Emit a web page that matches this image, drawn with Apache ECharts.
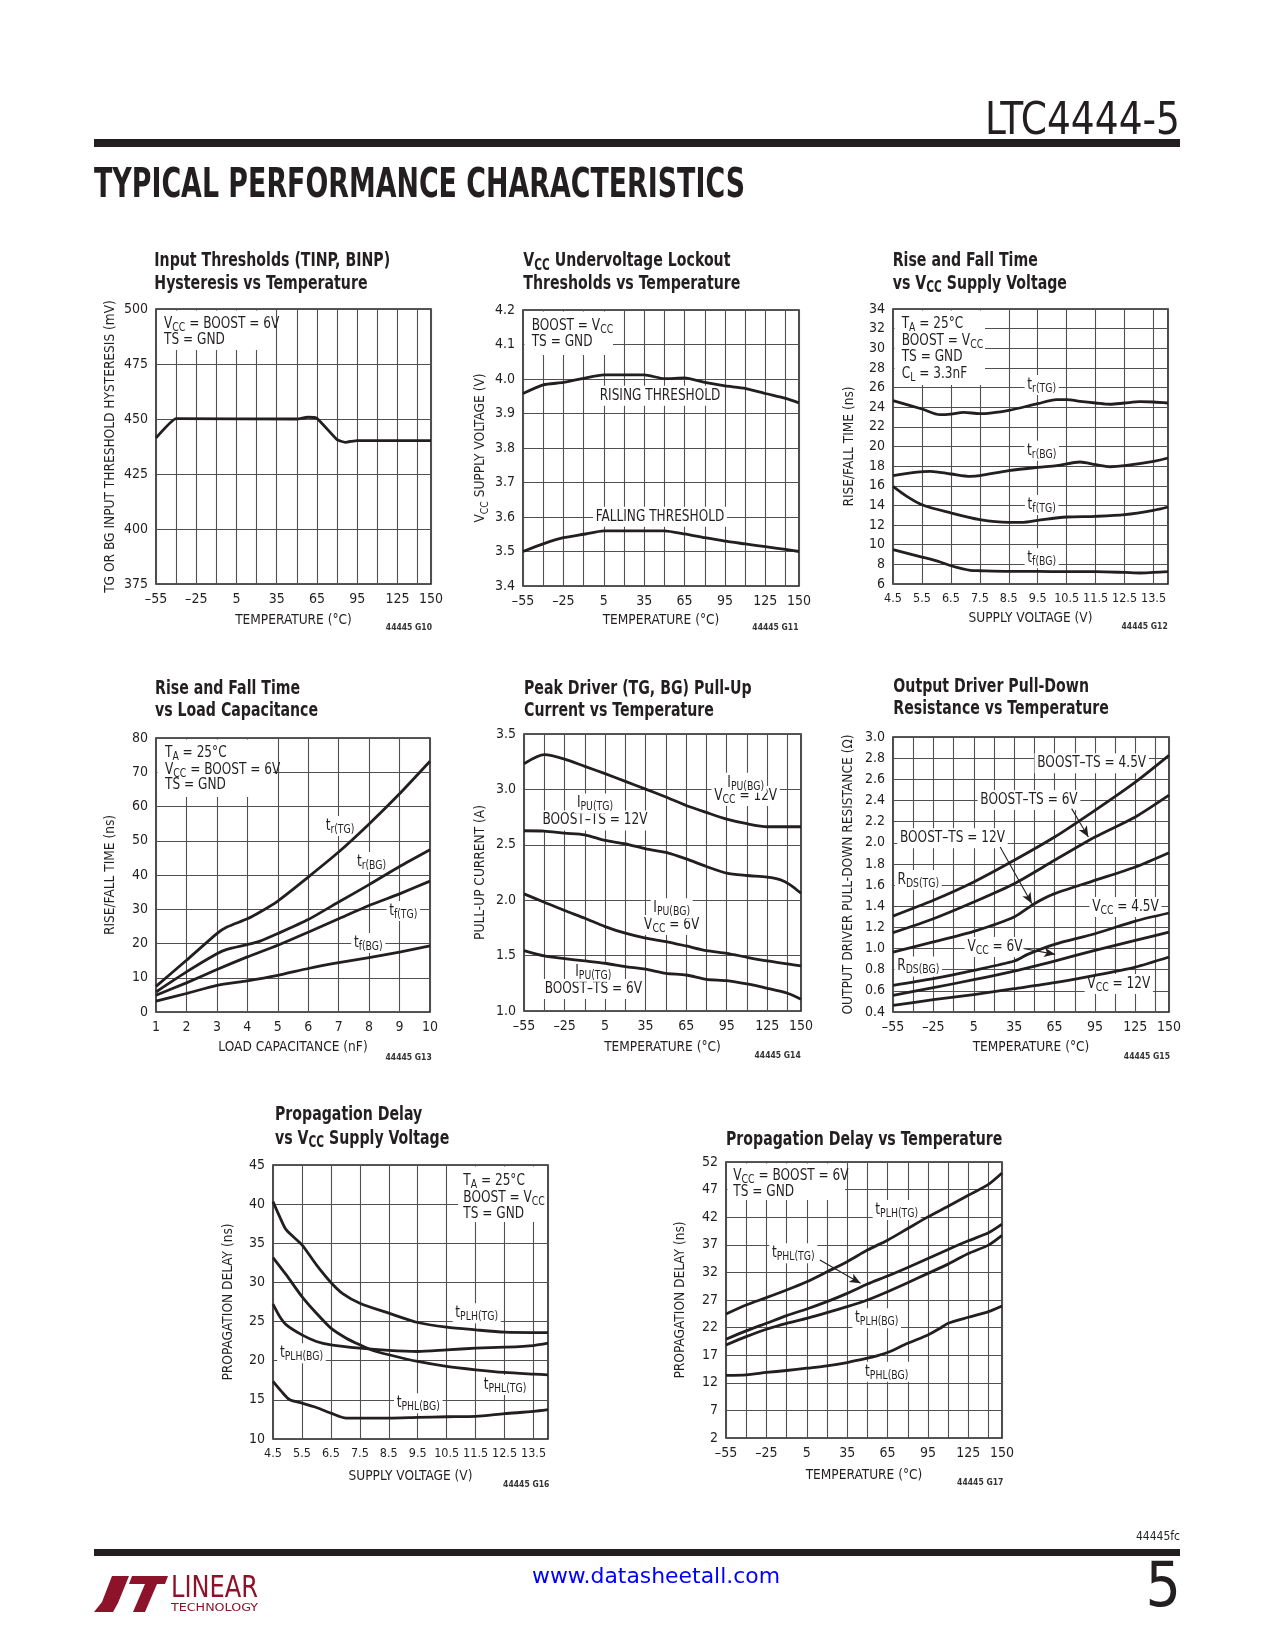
<!DOCTYPE html>
<html>
<head>
<meta charset="utf-8">
<script src="https://cdn.jsdelivr.net/npm/echarts@6.0.0/dist/echarts.min.js"></script>
<style>
html,body{margin:0;padding:0;background:#fff;}
#c{width:1275px;height:1650px;}
</style>
</head>
<body>
<div id="c"></div>
<script>
// ===================== DATA =====================
// Tick labels
const tempTickLabels = [-55, -25, 5, 35, 65, 95, 125, 150];
const vccTickLabels  = [4.5, 5.5, 6.5, 7.5, 8.5, 9.5, 10.5, 11.5, 12.5, 13.5];
const capTickLabels  = [1, 2, 3, 4, 5, 6, 7, 8, 9, 10];

// G10: Input threshold hysteresis vs temperature
const g10Temp = [-55, -40, 50, 58, 65, 80, 86, 95, 150];
const g10Hyst = [441.4, 450.2, 450, 450.8, 450.3, 440.6, 439.4, 440.2, 440.2];

// G11: VCC UVLO thresholds vs temperature
const g11Temp    = [-55, -40, -25, -10, 5, 20, 35, 50, 65, 80, 95, 110, 125, 140, 150];
const g11Rising  = [3.958, 3.983, 3.990, 4.002, 4.012, 4.012, 4.012, 4.001, 4.003, 3.990, 3.980, 3.973, 3.958, 3.944, 3.931];
const g11Falling = [3.500, 3.522, 3.540, 3.550, 3.560, 3.560, 3.560, 3.560, 3.551, 3.540, 3.530, 3.522, 3.514, 3.506, 3.500];

// G12: Rise/fall time vs VCC
const g12TrTgV = [4.5, 5.5, 6.13, 6.5, 6.94, 7.5, 7.86, 8.5, 9.5, 10.15, 10.5, 10.96, 11.5, 12.0, 12.5, 13.03, 13.5, 14];
const g12TrTg  = [24.67, 23.82, 23.24, 23.3, 23.48, 23.34, 23.4, 23.68, 24.36, 24.77, 24.77, 24.6, 24.43, 24.3, 24.43, 24.56, 24.53, 24.43];
const g12TrBgV = [4.5, 5.33, 5.79, 6.5, 7.17, 7.5, 8.5, 9.5, 10.16, 10.96, 11.5, 12.0, 12.5, 13.5, 14];
const g12TrBg  = [17.03, 17.4, 17.47, 17.2, 16.96, 17.03, 17.54, 17.88, 18.05, 18.42, 18.15, 17.94, 18.05, 18.49, 18.83];
const g12TfTgV = [4.5, 4.98, 5.5, 6.5, 7.5, 8.5, 9.0, 9.5, 10.5, 11.5, 12.5, 13.5, 14];
const g12TfTg  = [15.94, 14.92, 14.07, 13.23, 12.55, 12.28, 12.28, 12.48, 12.82, 12.89, 13.06, 13.5, 13.84];
const g12TfBgV = [4.5, 5.5, 6.13, 6.5, 7.17, 7.5, 8.5, 9.5, 10.5, 11.5, 12.5, 13.03, 13.5, 14];
const g12TfBg  = [9.49, 8.74, 8.24, 7.86, 7.39, 7.35, 7.29, 7.29, 7.25, 7.25, 7.18, 7.12, 7.18, 7.25];

// G13: Rise/fall time vs load capacitance
const g13CapR  = [1, 2, 3, 3.33, 4, 4.42, 5, 6, 7, 8, 9, 10];
const g13TrTg  = [7.5, 15.1, 22.9, 24.8, 27.2, 29.2, 32.4, 39.4, 46.7, 54.9, 63.7, 73.2];
const g13TrBg  = [5.85, 11.7, 17.0, 18.3, 19.7, 20.7, 22.9, 27.0, 32.1, 37.2, 42.5, 47.4];
const g13CapF  = [1, 2, 3, 4, 5, 6, 7, 8, 9, 10];
const g13TfTg  = [4.9, 8.5, 12.4, 16.1, 19.5, 23.3, 27.2, 31.1, 34.5, 38.2];
const g13TfBg  = [3.2, 5.4, 7.8, 9.1, 10.7, 12.7, 14.4, 15.9, 17.5, 19.3];

// G14: Peak pull-up current vs temperature
const g14Temp    = [-55, -40, -25, -10, 5, 20, 35, 50, 65, 80, 95, 110, 125, 140, 150];
const g14IpuBg12 = [3.232, 3.313, 3.274, 3.208, 3.142, 3.072, 3.003, 2.931, 2.855, 2.792, 2.732, 2.690, 2.663, 2.663, 2.663];
const g14TempTg12 = [-55, -40, -25, -10, 5, 20, 35, 50, 65, 80, 95, 110, 125, 135, 142, 150];
const g14IpuTg12 = [2.627, 2.624, 2.605, 2.59, 2.539, 2.509, 2.464, 2.431, 2.373, 2.304, 2.244, 2.223, 2.208, 2.184, 2.139, 2.063];
const g14IpuBg6  = [2.057, 1.982, 1.907, 1.837, 1.762, 1.702, 1.657, 1.627, 1.587, 1.545, 1.521, 1.485, 1.452, 1.425, 1.407];
const g14IpuTg6  = [1.545, 1.497, 1.473, 1.452, 1.431, 1.401, 1.377, 1.340, 1.325, 1.286, 1.274, 1.244, 1.205, 1.160, 1.106];

// G15: Pull-down resistance vs temperature
const g15Temp    = [-55, -25, 5, 35, 65, 95, 125, 150];
const g15RTg45   = [1.307, 1.456, 1.629, 1.834, 2.054, 2.307, 2.574, 2.827];
const g15RTg6    = [1.15, 1.282, 1.44, 1.613, 1.834, 2.054, 2.244, 2.45];
const g15TempTg12 = [-55, -25, 5, 35, 50, 65, 95, 125, 150];
const g15RTg12   = [0.967, 1.062, 1.162, 1.298, 1.424, 1.519, 1.645, 1.771, 1.906];
const g15TempBg45 = [-55, -25, 5, 35, 45, 65, 95, 125, 150];
const g15RBg45   = [0.652, 0.715, 0.794, 0.882, 0.945, 1.04, 1.14, 1.26, 1.336];
const g15RBg6    = [0.557, 0.63, 0.705, 0.787, 0.882, 0.983, 1.077, 1.156];
const g15RBg12   = [0.463, 0.516, 0.564, 0.62, 0.677, 0.746, 0.825, 0.92];
const g15Arrows  = [[[77.7, 2.323], [90.1, 2.054]], [[24.6, 1.96], [48.1, 1.425]], [[41.9, 1.0], [65.4, 0.945]]];

// G16: Propagation delay vs VCC
const g16PlhTgV = [4.5, 4.73, 4.96, 5.5, 6.0, 6.5, 6.92, 7.5, 8.5, 9.5, 10.5, 11.5, 12.5, 13.5, 14];
const g16PlhTg  = [40.32, 38.4, 36.7, 34.8, 32.24, 30.0, 28.54, 27.35, 26.07, 24.88, 24.28, 23.94, 23.65, 23.6, 23.6];
const g16PhlTgV = [4.5, 4.96, 5.5, 6.0, 6.5, 7.03, 7.5, 7.95, 8.5, 9.5, 10.5, 11.5, 12.5, 13.5, 14];
const g16PhlTg  = [33.18, 30.96, 28.2, 26.07, 24.16, 22.88, 22.03, 21.31, 20.76, 19.9, 19.27, 18.84, 18.5, 18.29, 18.2];
const g16PlhBgV = [4.5, 4.73, 4.96, 5.5, 6.0, 6.5, 7.5, 8.5, 9.5, 10.5, 11.5, 12.5, 13.5, 14];
const g16PlhBg  = [27.22, 25.65, 24.58, 23.3, 22.46, 22.03, 21.6, 21.31, 21.18, 21.39, 21.6, 21.73, 21.94, 22.24];
const g16PhlBgV = [4.5, 4.79, 5.08, 5.5, 6.0, 6.5, 7.03, 7.5, 8.5, 9.5, 10.5, 11.5, 12.5, 13.5, 14];
const g16PhlBg  = [17.35, 16.08, 15.01, 14.59, 14.03, 13.31, 12.67, 12.67, 12.67, 12.76, 12.84, 12.89, 13.23, 13.52, 13.74];

// G17: Propagation delay vs temperature
const g17Temp   = [-55, -40, -25, -10, 5, 20, 35, 50, 65, 80, 95, 110, 125, 140, 150];
const g17PlhTg  = [24.47, 26.1, 27.42, 28.8, 30.3, 32.1, 33.93, 36.04, 37.84, 39.95, 42.06, 43.99, 45.98, 47.96, 50.01];
const g17PhlTg  = [19.89, 21.4, 22.78, 24.17, 25.37, 26.7, 28.2, 29.89, 31.34, 32.9, 34.53, 36.16, 37.72, 39.17, 40.73];
const g17PlhBg  = [18.86, 20.37, 21.7, 22.78, 23.69, 24.71, 25.8, 27.0, 28.51, 30.13, 31.82, 33.5, 35.43, 36.94, 38.69];
const g17TempPhlBg = [-55, -40, -25, -10, 5, 20, 35, 50, 57, 65, 80, 95, 104, 110, 125, 140, 150];
const g17PhlBg  = [13.33, 13.45, 13.87, 14.23, 14.65, 15.07, 15.67, 16.45, 16.88, 17.48, 19.17, 20.67, 21.88, 22.78, 23.87, 24.9, 25.92];
const g17Arrows = [[[14.7, 34.23], [44.9, 30.02]]];

// ===================== STYLE / HELPERS =====================
const INK = '#231f20';
const GRIDC = '#505050';
const cv = document.createElement('canvas').getContext('2d');
function mw(font, s) { cv.font = font; return cv.measureText(s).width; }
const probe = 'abcdefghijklmnopqrstuvwxyzABCDEFGHIJ0123456789';
function has(f) { return Math.abs(mw('20px "' + f + '", monospace', probe) - mw('20px monospace', probe)) > 0.5; }
const NF = ['Liberation Sans Narrow', 'Arial Narrow', 'DejaVu Sans Condensed', 'Roboto Condensed'].find(has) || 'Liberation Sans';
const FF = '"' + NF + '", "Liberation Sans", Arial, sans-serif';
const F = (size, bold) => (bold ? 'bold ' : '') + size + 'px ' + FF;

const isNarrow = NF === 'Liberation Sans Narrow' || NF === 'Arial Narrow';
const LBL = isNarrow ? 15.5 : 14;
const LBL_V = isNarrow ? 15 : 12.5;
const SX_AX  = 116.7 / mw(F(14.5), 'TEMPERATURE (°C)');
const SX_TXT = 120.7 / mw(F(15), 'RISING THRESHOLD');
const SX_TTL = 276.3 / mw(F(20, true), 'Propagation Delay vs Temperature');

const TOFF = 55, VOFF = 4.5, G17OFF = 2;
const tx = t => t + TOFF;
const vx = v => +(v - VOFF).toFixed(4);
const id = v => v;
const fmtNeg = t => (t < 0 ? '\u2013' + Math.abs(t) : String(t));

function rt(str) {
  const out = []; const re = /_\{([^}]*)\}/g; let last = 0, m;
  while ((m = re.exec(str))) {
    if (m.index > last) out.push('{n|' + str.slice(last, m.index) + '}');
    out.push('{s|' + m[1] + '}'); last = re.lastIndex;
  }
  if (last < str.length) out.push('{n|' + str.slice(last) + '}');
  return out.join('');
}
function richStyles(size, bold, sub) {
  const w = bold ? 'bold' : 'normal';
  return {
    n: { fontFamily: FF, fontSize: size, fontWeight: w, fill: INK, color: INK, lineHeight: size + 5 },
    s: { fontFamily: FF, fontSize: sub, fontWeight: w, fill: INK, color: INK, verticalAlign: 'bottom' }
  };
}
function T(x, y, str, o) {
  o = o || {};
  const size = o.size || 15;
  const al = o.align || 'left';
  const st = {
    text: rt(str), rich: richStyles(size, o.bold, o.sub || Math.round(size * 0.76)),
    align: al, textAlign: al, verticalAlign: 'middle', textVerticalAlign: 'middle', fill: INK
  };
  if (o.bg) { st.backgroundColor = '#fff'; st.padding = [0, 3]; }
  return { type: 'text', x: x, y: y, rotation: o.rot || 0, scaleX: o.sx || 1, z: o.z == null ? 110 : o.z, silent: true, style: st };
}
function plain(x, y, str, o) {
  o = o || {};
  const al = o.align || 'left';
  return { type: 'text', x: x, y: y, scaleX: o.sx || 1, z: 110, silent: true,
    style: { text: str, font: o.font, fill: o.color || INK, align: al, textAlign: al, verticalAlign: 'middle', textVerticalAlign: 'middle' } };
}
function rect(x1, y1, x2, y2, fill, z) {
  return { type: 'rect', shape: { x: x1, y: y1, width: x2 - x1, height: y2 - y1 }, style: { fill: fill || '#fff' }, z: z == null ? 3 : z, silent: true };
}

// ===================== AXES / GRIDS =====================
const grids = [
  [156, 309, 275, 275], [523, 310, 276, 276], [893, 309, 275, 275],
  [156, 738, 274, 274], [524, 734, 277, 277], [893, 737, 276, 275],
  [273, 1165, 275, 274], [726, 1162, 276, 276]
];
const xKinds = ['temp', 'temp', 'vcc', 'cap', 'temp', 'temp', 'vcc', 'temp'];
const yRanges = [
  { min: 375, max: 500, interval: 25, dec: 0, off: 0 },
  { min: 3.4, max: 4.2, interval: 0.1, dec: 1, off: 0 },
  { min: 6, max: 34, interval: 2, dec: 0, off: 0 },
  { min: 0, max: 80, interval: 10, dec: 0, off: 0 },
  { min: 1, max: 3.5, interval: 0.5, dec: 1, off: 0 },
  { min: 0.4, max: 3.0, interval: 0.2, dec: 1, off: 0 },
  { min: 10, max: 45, interval: 5, dec: 0, off: 0 },
  { min: 0, max: 50, interval: 5, dec: 0, off: G17OFF }
];
const axisCommon = () => ({
  axisLine: { show: false }, axisTick: { show: false },
  splitLine: { show: true, lineStyle: { color: GRIDC, width: 1.1 } },
  axisLabel: { color: INK, fontFamily: FF, fontSize: LBL, margin: 8 }
});
const xAxes = xKinds.map((k, gi) => {
  const a = Object.assign({ type: 'value', gridIndex: gi }, axisCommon());
  if (k === 'temp') {
    Object.assign(a, { min: 0, max: 205, interval: 15 });
    a.axisLabel.formatter = v => { const t = Math.round(v - TOFF); return tempTickLabels.includes(t) ? fmtNeg(t) : ''; };
  } else if (k === 'vcc') {
    Object.assign(a, { min: 0, max: 9.5, interval: 1 });
    a.axisLabel.fontSize = LBL_V;
    a.axisLabel.formatter = v => { const t = Math.round((v + VOFF) * 10) / 10; return vccTickLabels.includes(t) ? t.toFixed(1) : ''; };
  } else {
    Object.assign(a, { min: 1, max: 10, interval: 1 });
    a.axisLabel.formatter = v => (capTickLabels.includes(v) ? String(v) : '');
  }
  return a;
});
const yAxes = yRanges.map((r, gi) => {
  const a = Object.assign({ type: 'value', gridIndex: gi, min: r.min, max: r.max, interval: r.interval }, axisCommon());
  a.axisLabel.formatter = v => (v + r.off).toFixed(r.dec);
  return a;
});

// ===================== SERIES =====================
const S = [];
function addLine(gi, xs, ys, fx, fy, smooth, extra) {
  S.push(Object.assign({
    type: 'line', xAxisIndex: gi, yAxisIndex: gi,
    data: xs.map((x, i) => [fx(x), fy(ys[i])]),
    symbol: 'none', showSymbol: false, smooth: smooth,
    lineStyle: { color: INK, width: 2.8, join: 'round' }, silent: true, z: 5, animation: false
  }, extra || {}));
}
function arrows(pairs, fx, fy) {
  return { markLine: {
    silent: true, animation: false, symbol: ['none', 'arrow'], symbolSize: [7, 11],
    lineStyle: { color: INK, width: 1.1, type: 'solid' }, label: { show: false },
    data: pairs.map(p => [{ coord: [fx(p[0][0]), fy(p[0][1])] }, { coord: [fx(p[1][0]), fy(p[1][1])] }])
  } };
}
const y17 = y => +(y - G17OFF).toFixed(3);

addLine(0, g10Temp, g10Hyst, tx, id, 0.12);
addLine(1, g11Temp, g11Rising, tx, id, 0.2);
addLine(1, g11Temp, g11Falling, tx, id, 0.2);
addLine(2, g12TrTgV, g12TrTg, vx, id, 0.3);
addLine(2, g12TrBgV, g12TrBg, vx, id, 0.3);
addLine(2, g12TfTgV, g12TfTg, vx, id, 0.3);
addLine(2, g12TfBgV, g12TfBg, vx, id, 0.3);
addLine(3, g13CapR, g13TrTg, id, id, 0.2);
addLine(3, g13CapR, g13TrBg, id, id, 0.2);
addLine(3, g13CapF, g13TfTg, id, id, 0.2);
addLine(3, g13CapF, g13TfBg, id, id, 0.2);
addLine(4, g14Temp, g14IpuBg12, tx, id, 0.25);
addLine(4, g14TempTg12, g14IpuTg12, tx, id, 0.25);
addLine(4, g14Temp, g14IpuBg6, tx, id, 0.25);
addLine(4, g14Temp, g14IpuTg6, tx, id, 0.25);
addLine(5, g15Temp, g15RTg45, tx, id, 0.25, arrows(g15Arrows, tx, id));
addLine(5, g15Temp, g15RTg6, tx, id, 0.25);
addLine(5, g15TempTg12, g15RTg12, tx, id, 0.25);
addLine(5, g15TempBg45, g15RBg45, tx, id, 0.25);
addLine(5, g15Temp, g15RBg6, tx, id, 0.25);
addLine(5, g15Temp, g15RBg12, tx, id, 0.25);
addLine(6, g16PlhTgV, g16PlhTg, vx, id, 0.25);
addLine(6, g16PhlTgV, g16PhlTg, vx, id, 0.25);
addLine(6, g16PlhBgV, g16PlhBg, vx, id, 0.25);
addLine(6, g16PhlBgV, g16PhlBg, vx, id, 0.25);
addLine(7, g17Temp, g17PlhTg, tx, y17, 0.25, arrows(g17Arrows, tx, y17));
addLine(7, g17Temp, g17PhlTg, tx, y17, 0.25);
addLine(7, g17Temp, g17PlhBg, tx, y17, 0.25);
addLine(7, g17TempPhlBg, g17PhlBg, tx, y17, 0.25);

// ===================== TEXT / GRAPHICS =====================
const G = [];
// header / footer
G.push(rect(94, 139, 1180, 147, INK, 100));
G.push(rect(94, 1549, 1180, 1556, INK, 100));
G.push(plain(1180, 123, 'LTC4444-5', { font: F(44), align: 'right', sx: 195 / mw(F(44), 'LTC4444-5') }));
G.push(plain(94, 187, 'TYPICAL PERFORMANCE CHARACTERISTICS', { font: F(40, true), sx: 651 / mw(F(40, true), 'TYPICAL PERFORMANCE CHARACTERISTICS') }));
G.push(plain(1180, 1537, '44445fc', { font: F(12), align: 'right' }));
G.push(plain(656, 1577, 'www.datasheetall.com', { font: F(22), align: 'center', color: '#0000ff', sx: 248 / mw(F(22), 'www.datasheetall.com') }));
G.push(plain(1181, 1590, '5', { font: F(62), align: 'right' }));
// logo
const MAROON = '#8c1329';
G.push({ type: 'polygon', shape: { points: [[112, 1576], [129, 1576], [118, 1603], [113, 1612], [94, 1612], [102, 1602]] }, style: { fill: MAROON }, z: 110, silent: true });
G.push({ type: 'polygon', shape: { points: [[132, 1576], [168, 1576], [165, 1584], [129, 1584]] }, style: { fill: MAROON }, z: 110, silent: true });
G.push({ type: 'polygon', shape: { points: [[145, 1584], [157, 1584], [145, 1612], [133, 1612]] }, style: { fill: MAROON }, z: 110, silent: true });
G.push(plain(171, 1589, 'LINEAR', { font: F(30), color: MAROON, sx: 87 / mw(F(30), 'LINEAR') }));
G.push(plain(171, 1608, 'TECHNOLOGY', { font: F(10), color: MAROON, sx: 87 / mw(F(10), 'TECHNOLOGY') }));

// chart titles
const titles = [
  [154.3, 260.7, 'Input Thresholds (TINP, BINP)'], [154.3, 283.3, 'Hysteresis vs Temperature'],
  [523.3, 260.7, 'V_{CC} Undervoltage Lockout'], [523.3, 283.3, 'Thresholds vs Temperature'],
  [892.7, 260.7, 'Rise and Fall Time'], [892.7, 283.3, 'vs V_{CC} Supply Voltage'],
  [155, 688.3, 'Rise and Fall Time'], [155, 710.7, 'vs Load Capacitance'],
  [524, 688.3, 'Peak Driver (TG, BG) Pull-Up'], [524, 710.3, 'Current vs Temperature'],
  [893.3, 686.5, 'Output Driver Pull-Down'], [893.3, 708.8, 'Resistance vs Temperature'],
  [275, 1115, 'Propagation Delay'], [275, 1138.3, 'vs V_{CC} Supply Voltage'],
  [726, 1139.3, 'Propagation Delay vs Temperature']
];
titles.forEach(t => G.push(T(t[0], t[1], t[2], { size: 20, bold: true, sub: 15, sx: SX_TTL })));

// axis names
const yNames = [
  [110, 446.5, 'TG OR BG INPUT THRESHOLD HYSTERESIS (mV)'], [480.7, 448, 'V_{CC} SUPPLY VOLTAGE (V)'],
  [849, 446.5, 'RISE/FALL TIME (ns)'], [110.7, 875, 'RISE/FALL TIME (ns)'],
  [480, 872.5, 'PULL-UP CURRENT (A)'], [848.3, 874.5, 'OUTPUT DRIVER PULL-DOWN RESISTANCE (\u03a9)'],
  [228.3, 1302, 'PROPAGATION DELAY (ns)'], [680, 1300, 'PROPAGATION DELAY (ns)']
];
yNames.forEach(t => G.push(T(t[0], t[1], t[2], { size: 14.5, sub: 11, align: 'center', rot: Math.PI / 2, sx: SX_AX })));
const xNames = [
  [293.5, 620, 'TEMPERATURE (°C)'], [661, 620, 'TEMPERATURE (°C)'], [1030.5, 618.3, 'SUPPLY VOLTAGE (V)'],
  [293, 1047.7, 'LOAD CAPACITANCE (nF)'], [662.5, 1047.7, 'TEMPERATURE (°C)'], [1031, 1047.7, 'TEMPERATURE (°C)'],
  [410.5, 1476, 'SUPPLY VOLTAGE (V)'], [864, 1475, 'TEMPERATURE (°C)']
];
xNames.forEach(t => G.push(T(t[0], t[1], t[2], { size: 14.5, align: 'center', sx: SX_AX })));

// figure codes
const codes = [
  [432, 628, '44445 G10'], [798.5, 627.7, '44445 G11'], [1167.7, 626.7, '44445 G12'], [431.7, 1057.7, '44445 G13'],
  [800.7, 1056, '44445 G14'], [1170, 1056.7, '44445 G15'], [549.3, 1485, '44445 G16'], [1003.3, 1482.7, '44445 G17']
];
codes.forEach(t => G.push(plain(t[0], t[1], t[2], { font: F(8.5, true), align: 'right', color: '#333' })));

// condition boxes (white, under the curves, over the grid)
G.push(rect(157.5, 310.5, 272, 350));
G.push(rect(524.5, 311.5, 613, 355));
G.push(rect(894.5, 310.5, 985, 385));
G.push(rect(157.5, 739.5, 273, 797));
G.push(rect(458, 1166.5, 547, 1222));
G.push(rect(727.5, 1163.5, 845, 1200));
const cond = [
  [164, 324, 'V_{CC} = BOOST = 6V'], [164, 340, 'TS = GND'],
  [531.7, 325.7, 'BOOST = V_{CC}'], [531.7, 341.7, 'TS = GND'],
  [901.7, 324, 'T_{A} = 25°C'], [901.7, 340.7, 'BOOST = V_{CC}'], [901.7, 357.3, 'TS = GND'], [901.7, 374, 'C_{L} = 3.3nF'],
  [165, 753.3, 'T_{A} = 25°C'], [165, 770, 'V_{CC} = BOOST = 6V'], [165, 785.5, 'TS = GND'],
  [463.3, 1180.7, 'T_{A} = 25°C'], [463.3, 1198, 'BOOST = V_{CC}'], [463.3, 1214, 'TS = GND'],
  [733.3, 1176, 'V_{CC} = BOOST = 6V'], [733.3, 1191.7, 'TS = GND']
];
cond.forEach(t => G.push(T(t[0], t[1], t[2], { size: 15, sub: 11.5, sx: SX_TXT })));

// curve labels (centered, white background beneath the curves)
const curveLabels = [
  [660, 395.7, 'RISING THRESHOLD'], [660, 516.7, 'FALLING THRESHOLD'],
  [1041.7, 385, 't_{r(TG)}'], [1041.7, 450.7, 't_{r(BG)}'], [1041.7, 505, 't_{f(TG)}'], [1041.7, 558.3, 't_{f(BG)}'],
  [340, 826, 't_{r(TG)}'], [371.5, 862, 't_{r(BG)}'], [403.3, 911, 't_{f(TG)}'], [368.3, 943, 't_{f(BG)}'],
  [745.7, 782.7, 'I_{PU(BG)}', 4], [745.7, 796, 'V_{CC} = 12V', 3],
  [595, 803.5, 'I_{PU(TG)}', 4], [595, 820.5, 'BOOST\u2013TS = 12V', 3],
  [671.7, 908.3, 'I_{PU(BG)}', 4], [671.7, 925, 'V_{CC} = 6V', 3],
  [593.3, 971.7, 'I_{PU(TG)}', 4], [593.3, 989, 'BOOST\u2013TS = 6V', 3],
  [1091.7, 763.3, 'BOOST\u2013TS = 4.5V'], [1029, 800, 'BOOST\u2013TS = 6V'], [952.5, 838.3, 'BOOST\u2013TS = 12V'],
  [918.3, 880, 'R_{DS(TG)}'], [1125.5, 907, 'V_{CC} = 4.5V'], [995, 947, 'V_{CC} = 6V'],
  [918.3, 966.5, 'R_{DS(BG)}'], [1118.8, 984, 'V_{CC} = 12V'],
  [476.7, 1313.3, 't_{PLH(TG)}'], [301.5, 1353.3, 't_{PLH(BG)}'], [505, 1385, 't_{PHL(TG)}'], [418.3, 1403.3, 't_{PHL(BG)}'],
  [896.7, 1210, 't_{PLH(TG)}'], [793.3, 1253.3, 't_{PHL(TG)}'], [876.7, 1318.3, 't_{PLH(BG)}'], [886.7, 1371.7, 't_{PHL(BG)}']
];
curveLabels.forEach(t => G.push(T(t[0], t[1], t[2], { size: 15, sub: 11.5, align: 'center', bg: true, sx: SX_TXT, z: t[3] == null ? 3 : t[3] })));

// ===================== CHART =====================
const chart = echarts.init(document.getElementById('c'), null, { renderer: 'canvas', width: 1275, height: 1650 });
chart.setOption({
  animation: false,
  backgroundColor: '#fff',
  textStyle: { fontFamily: FF },
  grid: grids.map(g => ({ left: g[0], top: g[1], width: g[2], height: g[3], show: true, borderColor: INK, borderWidth: 1.6, containLabel: false })),
  xAxis: xAxes,
  yAxis: yAxes,
  series: S,
  graphic: G
});
</script>
</body>
</html>
